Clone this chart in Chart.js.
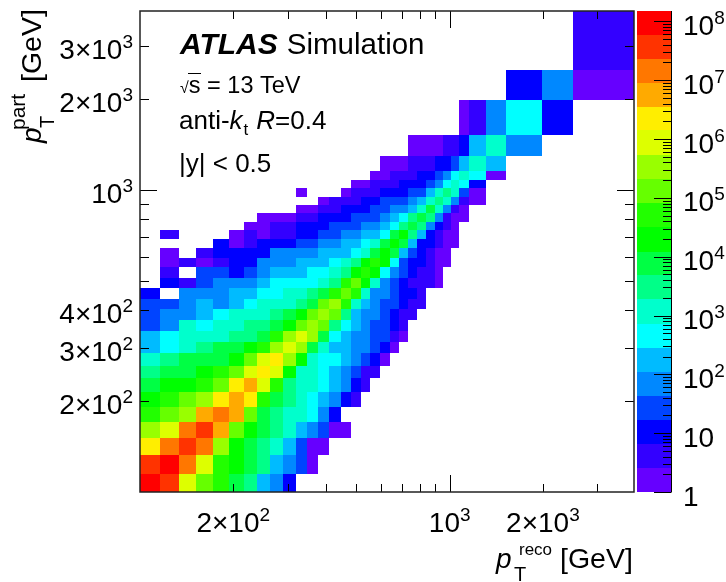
<!DOCTYPE html>
<html>
<head>
<meta charset="utf-8">
<title>ATLAS Simulation pT response</title>
<script src="https://cdn.jsdelivr.net/npm/chart.js@4/dist/chart.umd.min.js"></script>
<style>
  html, body { margin: 0; padding: 0; background: #fff; }
  canvas { display: block; }
</style>
</head>
<body>
<canvas id="chart" width="726" height="582"></canvas>
<script>
'use strict';

// bin edges in GeV
const recoEdges = [100, 116, 134, 152, 172, 194, 216, 239, 263, 290, 319, 345, 376, 408, 445, 479, 516, 554, 597, 643, 688, 735, 786, 841, 894, 949, 1010, 1075, 1158, 1309, 1522, 1990, 2498, 3938];
const partEdges = [100, 115, 133, 151, 170, 192, 214, 238, 262, 288, 315, 342, 372, 405, 437, 474, 512, 556, 597, 643, 689, 739, 787, 839, 894, 952, 1015, 1081, 1161, 1301, 1524, 1990, 2500, 3926];

// colour band of each cell, bottom row first, 0 = empty (band 1 is the lowest on the palette)
const cellBands = [
  [20, 19, 15, 13, 12, 10, 9, 6, 5, 3],
  [19, 20, 18, 15, 12, 11, 10, 9, 6, 5, 4, 1],
  [16, 18, 19, 18, 14, 11, 10, 9, 8, 6, 4, 1, 1],
  [14, 15, 18, 19, 17, 13, 11, 10, 9, 8, 6, 5, 4, 1, 1],
  [12, 13, 14, 17, 18, 17, 13, 10, 9, 8, 8, 7, 5, 3],
  [11, 12, 13, 14, 16, 17, 16, 12, 10, 9, 8, 7, 6, 5, 3, 2],
  [10, 11, 11, 12, 13, 16, 17, 15, 12, 9, 8, 8, 7, 6, 5, 3, 2],
  [9, 10, 10, 11, 12, 13, 15, 16, 15, 11, 8, 8, 7, 6, 5, 4, 2, 2],
  [8, 9, 10, 10, 10, 11, 13, 15, 16, 14, 11, 8, 7, 7, 6, 5, 4, 3, 1],
  [6, 7, 8, 9, 10, 10, 11, 12, 14, 15, 14, 10, 8, 6, 6, 5, 5, 4, 3, 1],
  [6, 7, 8, 8, 8, 9, 9, 10, 12, 14, 15, 14, 10, 7, 6, 5, 5, 4, 4, 2, 1],
  [4, 5, 8, 7, 8, 8, 9, 9, 10, 11, 13, 14, 13, 9, 7, 6, 5, 4, 4, 3, 2],
  [4, 5, 5, 6, 7, 8, 8, 8, 9, 10, 11, 13, 14, 13, 9, 6, 5, 5, 4, 3, 2, 2],
  [4, 4, 5, 6, 5, 6, 7, 8, 8, 8, 9, 10, 13, 14, 12, 8, 6, 5, 4, 4, 3, 2, 2],
  [3, 0, 5, 5, 5, 6, 6, 7, 7, 8, 8, 9, 10, 12, 13, 12, 8, 5, 5, 4, 3, 3, 2],
  [0, 3, 2, 4, 5, 5, 5, 6, 7, 7, 7, 7, 8, 9, 12, 13, 11, 8, 5, 4, 3, 2, 2, 2, 1],
  [0, 2, 0, 4, 4, 3, 4, 5, 6, 6, 6, 7, 7, 8, 9, 11, 12, 11, 7, 5, 4, 3, 2, 2, 1],
  [0, 1, 2, 1, 2, 3, 3, 5, 5, 5, 6, 6, 6, 7, 8, 9, 11, 12, 11, 7, 4, 3, 3, 2, 1, 1],
  [0, 1, 0, 2, 3, 3, 3, 3, 5, 5, 5, 5, 6, 6, 6, 7, 8, 10, 11, 10, 6, 4, 3, 2, 1, 1],
  [0, 0, 0, 0, 3, 1, 2, 3, 3, 3, 4, 4, 5, 5, 6, 6, 7, 8, 10, 11, 10, 6, 3, 3, 2, 1, 1],
  [0, 2, 0, 0, 0, 1, 2, 1, 2, 2, 3, 3, 4, 4, 5, 5, 6, 6, 7, 10, 11, 9, 6, 3, 2, 1, 1],
  [0, 0, 0, 0, 0, 0, 1, 1, 2, 2, 3, 3, 3, 4, 4, 4, 5, 5, 6, 7, 9, 10, 9, 5, 3, 2, 1],
  [0, 0, 0, 0, 0, 0, 0, 1, 1, 1, 2, 2, 3, 3, 3, 4, 4, 4, 5, 6, 7, 9, 10, 9, 5, 2, 1, 1],
  [0, 0, 0, 0, 0, 0, 0, 0, 0, 0, 1, 1, 2, 2, 3, 3, 3, 4, 4, 5, 5, 6, 8, 10, 8, 5, 2, 1],
  [0, 0, 0, 0, 0, 0, 0, 0, 0, 0, 0, 0, 1, 2, 2, 2, 3, 3, 4, 4, 4, 5, 6, 8, 9, 8, 5, 2, 1],
  [0, 0, 0, 0, 0, 0, 0, 0, 0, 0, 1, 0, 0, 0, 1, 2, 2, 2, 3, 3, 3, 4, 4, 6, 8, 9, 8, 4, 1],
  [0, 0, 0, 0, 0, 0, 0, 0, 0, 0, 0, 0, 0, 0, 0, 1, 1, 2, 2, 2, 3, 3, 3, 4, 5, 7, 8, 7, 3],
  [0, 0, 0, 0, 0, 0, 0, 0, 0, 0, 0, 0, 0, 0, 0, 0, 0, 1, 1, 2, 2, 2, 3, 3, 4, 5, 7, 8, 7, 1],
  [0, 0, 0, 0, 0, 0, 0, 0, 0, 0, 0, 0, 0, 0, 0, 0, 0, 0, 1, 1, 1, 2, 2, 2, 3, 3, 4, 6, 8, 6],
  [0, 0, 0, 0, 0, 0, 0, 0, 0, 0, 0, 0, 0, 0, 0, 0, 0, 0, 0, 0, 0, 1, 1, 1, 1, 2, 2, 3, 6, 8, 5],
  [0, 0, 0, 0, 0, 0, 0, 0, 0, 0, 0, 0, 0, 0, 0, 0, 0, 0, 0, 0, 0, 0, 0, 0, 0, 0, 0, 1, 2, 5, 7, 3],
  [0, 0, 0, 0, 0, 0, 0, 0, 0, 0, 0, 0, 0, 0, 0, 0, 0, 0, 0, 0, 0, 0, 0, 0, 0, 0, 0, 0, 0, 0, 3, 5, 1],
  [0, 0, 0, 0, 0, 0, 0, 0, 0, 0, 0, 0, 0, 0, 0, 0, 0, 0, 0, 0, 0, 0, 0, 0, 0, 0, 0, 0, 0, 0, 0, 0, 2]
];

// palette bottom to top, and the z value at each band edge
const bandColors = ['#6600ff', '#3300ff', '#0000ff', '#0044ff', '#0088ff', '#00bbff', '#00ffff', '#00ffcc', '#00ff88', '#00ff44', '#00ff00', '#22ff00', '#66ff00', '#99ff00', '#ddff00', '#ffee00', '#ffaa00', '#ff7700', '#ff3300', '#ff0000'];
const zEdges = [1, 2.6, 6.6, 17, 43, 110, 280, 730, 1900, 4800, 12000, 32000, 81000, 210000, 530000, 1400000, 3500000, 9000000, 23000000, 58000000, 150000000];

// axis ticks
const xTicks = [200, 300, 400, 500, 600, 700, 800, 900, 1000, 2000, 3000];
const xMajorTicks = [1000];
const xLabelValues = [200, 1000, 2000];
const xLabelMantissas = ['2×10', '10', '2×10'];
const xLabelExponents = ['2', '3', '3'];
const yTicks = [200, 300, 400, 500, 600, 700, 800, 900, 1000, 2000, 3000];
const yMajorTicks = [1000];
const yLabelValues = [200, 300, 400, 1000, 2000, 3000];
const yLabelMantissas = ['2×10', '3×10', '4×10', '10', '2×10', '3×10'];
const yLabelExponents = ['2', '2', '2', '3', '3', '3'];
const zDecades = [1, 10, 100, 1000, 10000, 100000, 1000000, 10000000, 100000000];
const zLabelMantissas = ['1', '10', '10', '10', '10', '10', '10', '10', '10'];
const zLabelExponents = ['', '', '2', '3', '4', '5', '6', '7', '8'];
const zMinorSteps = [2, 3, 4, 5, 6, 7, 8, 9];

const FONT = '"Liberation Sans", Arial, sans-serif';

// one point per filled cell, at the geometric centre of the bin
let cellPoints = [];
cellBands.forEach(function (row, r) {
  row.forEach(function (band, c) {
    if (band > 0) {
      cellPoints.push({
        x: Math.sqrt(recoEdges[c] * recoEdges[c + 1]),
        y: Math.sqrt(partEdges[r] * partEdges[r + 1]),
        col: c,
        row: r,
        band: band
      });
    }
  });
});

function drawRuns(ctx, x, y, runs) {
  runs.forEach(function (run) {
    ctx.font = run.font;
    ctx.fillText(run.text, x, y + (run.dy || 0));
    x += ctx.measureText(run.text).width + (run.gap || 0);
  });
  return x;
}

function powerLabel(ctx, mantissa, exponent, x, y, align) {
  const bigFont = '28px ' + FONT;
  const smallFont = '19px ' + FONT;
  ctx.font = bigFont;
  let width = ctx.measureText(mantissa).width;
  ctx.font = smallFont;
  width += ctx.measureText(exponent).width;
  let startX = x;
  if (align === 'right') startX = x - width;
  if (align === 'center') startX = x - width / 2;
  drawRuns(ctx, startX, y, [
    { text: mantissa, font: bigFont },
    { text: exponent, font: smallFont, dy: -11 }
  ]);
}

const histogramPlugin = {
  id: 'histogram',
  beforeDatasetsDraw(chart) {
    const ctx = chart.ctx;
    const xs = chart.scales.x;
    const ys = chart.scales.y;
    const zs = chart.scales.z;
    ctx.save();
    chart.data.datasets[0].data.forEach(function (cell) {
      const left = Math.round(xs.getPixelForValue(recoEdges[cell.col]));
      const right = Math.round(xs.getPixelForValue(recoEdges[cell.col + 1]));
      const bottom = Math.round(ys.getPixelForValue(partEdges[cell.row]));
      const top = Math.round(ys.getPixelForValue(partEdges[cell.row + 1]));
      ctx.fillStyle = bandColors[cell.band - 1];
      ctx.fillRect(left, top, right - left, bottom - top);
    });
    // colour scale
    bandColors.forEach(function (color, i) {
      const bottom = Math.round(zs.getPixelForValue(zEdges[i]));
      const top = Math.round(zs.getPixelForValue(zEdges[i + 1]));
      ctx.fillStyle = color;
      ctx.fillRect(637, top, 35, bottom - top);
    });
    ctx.restore();
  },
  afterDraw(chart) {
    const ctx = chart.ctx;
    const area = chart.chartArea;
    const xs = chart.scales.x;
    const ys = chart.scales.y;
    const zs = chart.scales.z;
    ctx.save();
    ctx.strokeStyle = '#000';
    ctx.fillStyle = '#000';
    ctx.textBaseline = 'alphabetic';
    ctx.textAlign = 'left';

    function line(x1, y1, x2, y2) {
      ctx.beginPath();
      ctx.moveTo(x1, y1);
      ctx.lineTo(x2, y2);
      ctx.stroke();
    }

    // ticks point inwards and are mirrored on the opposite side
    ctx.lineWidth = 1;
    xTicks.forEach(function (v) {
      const px = Math.round(xs.getPixelForValue(v)) + 0.5;
      const len = xMajorTicks.includes(v) ? 17 : 8;
      line(px, area.bottom, px, area.bottom - len);
      line(px, area.top, px, area.top + len);
    });
    yTicks.forEach(function (v) {
      const py = Math.round(ys.getPixelForValue(v)) + 0.5;
      const len = yMajorTicks.includes(v) ? 17 : 9;
      line(area.left, py, area.left + len, py);
      line(area.right, py, area.right - len, py);
    });

    // frame
    ctx.lineWidth = 1.5;
    ctx.strokeStyle = '#222';
    ctx.strokeRect(area.left, area.top, area.right - area.left, area.bottom - area.top);

    // colour scale axis
    ctx.strokeStyle = '#000';
    ctx.lineWidth = 1;
    line(671.5, area.top, 671.5, area.bottom);
    zDecades.forEach(function (decade, i) {
      const py = Math.round(zs.getPixelForValue(decade)) + 0.5;
      line(671.5, py, 654, py);
      zMinorSteps.forEach(function (step) {
        const value = decade * step;
        if (value <= zs.max) {
          const minorY = Math.round(zs.getPixelForValue(value)) + 0.5;
          line(671.5, minorY, 663, minorY);
        }
      });
      powerLabel(ctx, zLabelMantissas[i], zLabelExponents[i], 683, zs.getPixelForValue(decade) + 13.5, 'left');
    });

    // tick labels
    xLabelValues.forEach(function (v, i) {
      powerLabel(ctx, xLabelMantissas[i], xLabelExponents[i], xs.getPixelForValue(v), 532, 'center');
    });
    yLabelValues.forEach(function (v, i) {
      powerLabel(ctx, yLabelMantissas[i], yLabelExponents[i], 133, ys.getPixelForValue(v) + 13, 'right');
    });

    // x axis title
    const italic = 'italic 28px ' + FONT;
    const regular = '28.5px ' + FONT;
    const script = '20px ' + FONT;
    drawRuns(ctx, 496, 568, [{ text: 'p', font: italic }]);
    drawRuns(ctx, 514, 581, [{ text: 'T', font: script }]);
    drawRuns(ctx, 519, 555, [{ text: 'reco', font: '17px ' + FONT }]);
    drawRuns(ctx, 560, 568, [{ text: '[GeV]', font: regular }]);

    // y axis title
    ctx.save();
    ctx.translate(40.5, 143);
    ctx.rotate(-Math.PI / 2);
    drawRuns(ctx, 0, 0, [{ text: 'p', font: italic }]);
    drawRuns(ctx, 15, 13, [{ text: 'T', font: script }]);
    drawRuns(ctx, 13, -16, [{ text: 'part', font: '21px ' + FONT }]);
    drawRuns(ctx, 61, 0, [{ text: '[GeV]', font: regular }]);
    ctx.restore();

    // labels inside the plot
    drawRuns(ctx, 180, 54, [
      { text: 'ATLAS', font: 'italic bold 30px ' + FONT, gap: 9 },
      { text: 'Simulation', font: '29.5px ' + FONT }
    ]);
    drawRuns(ctx, 180, 93, [
      { text: '√', font: '16px ' + FONT, gap: 0 },
      { text: 's = 13 TeV', font: '23.5px ' + FONT }
    ]);
    ctx.lineWidth = 1;
    line(188, 73.5, 201, 73.5);
    drawRuns(ctx, 179, 129, [
      { text: 'anti-', font: '26px ' + FONT },
      { text: 'k', font: 'italic 26px ' + FONT, gap: 1 },
      { text: 't', font: '17px ' + FONT, dy: 6, gap: 8 },
      { text: 'R', font: 'italic 26px ' + FONT },
      { text: '=0.4', font: '26px ' + FONT }
    ]);
    drawRuns(ctx, 179, 172, [{ text: '|y| < 0.5', font: '26px ' + FONT }]);

    ctx.restore();
  }
};

function fixedSize(prop, size) {
  return function (axis) { axis[prop] = size; };
}

const hiddenAxis = {
  ticks: { display: false },
  grid: { display: false },
  border: { display: false }
};

let canvasElem = document.getElementById('chart');

let config = {
  type: 'scatter',
  data: {
    datasets: [{
      label: 'Jets',
      data: cellPoints,
      pointRadius: 0,
      pointHoverRadius: 0
    }]
  },
  options: {
    responsive: false,
    animation: false,
    layout: { padding: { top: 11 } },
    plugins: {
      legend: { display: false },
      tooltip: { enabled: false }
    },
    scales: {
      x: Object.assign({}, hiddenAxis, { type: 'logarithmic', position: 'bottom', min: 100, max: 3938, afterFit: fixedSize('height', 90) }),
      y: Object.assign({}, hiddenAxis, { type: 'logarithmic', position: 'left', min: 100, max: 3926, afterFit: fixedSize('width', 140) }),
      z: Object.assign({}, hiddenAxis, { type: 'logarithmic', axis: 'y', position: 'right', min: 1, max: 150000000, afterFit: fixedSize('width', 92) })
    }
  },
  plugins: [histogramPlugin]
};

let myChart = new Chart(canvasElem, config);
</script>
</body>
</html>
